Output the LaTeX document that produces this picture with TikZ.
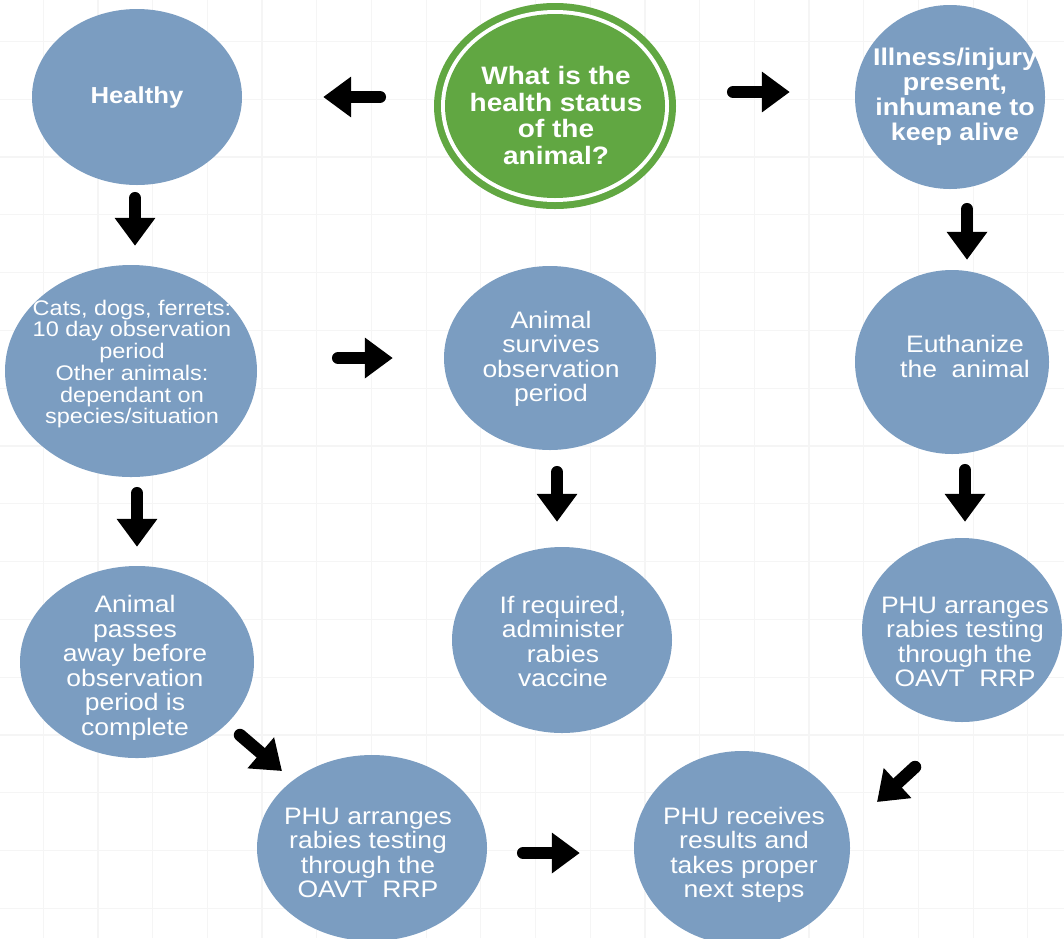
\documentclass[tikz,border=0pt]{standalone}
\usepackage{fontspec}
\setmainfont{Liberation Sans}
\usepackage{graphicx}
\usetikzlibrary{shapes.geometric,arrows.meta,calc}
\definecolor{nodeblue}{RGB}{123,157,193}
\definecolor{qgreen}{RGB}{97,167,66}
\definecolor{gridc}{RGB}{245,245,245}
\newcommand{\sqz}[1]{\scalebox{1}[0.9]{\begin{tabular}{@{}c@{}}#1\end{tabular}}}
\tikzset{
  ell/.style={ellipse, fill=nodeblue, inner sep=0pt},
  lbl/.style={text=white, inner sep=0pt, font=\fontsize{26.5}{27}\selectfont},
  lblsmall/.style={text=white, inner sep=0pt, font=\fontsize{23.5}{23.5}\selectfont},
  lblbold/.style={text=white, inner sep=0pt, font=\fontsize{26.8}{28}\selectfont\bfseries},
  lblq/.style={text=white, inner sep=0pt, font=\fontsize{28}{29.6}\selectfont\bfseries},
  blk/.style={line width=12.5pt, line cap=round, -{Triangle[length=28pt,width=39pt]}},
  gridline/.style={gridc, line width=1.2pt},
}
\begin{document}
\begin{tikzpicture}[x=1pt,y=-1pt]
\useasboundingbox (0,0) rectangle (1064,938);
\fill[white] (0,0) rectangle (1064,938);
\foreach \i in {0,...,18} \draw[gridline] ({43.2+54.7*\i},0) -- ++(0,938);
\foreach \j in {0,...,15} \draw[gridline] (0,{41.4+57.8*\j}) -- ++(1064,0);

% central question
\node[ellipse, fill=qgreen, inner sep=0pt, minimum width=242, minimum height=206] (q) at (555,106) {};
\fill[white] (q.center) ellipse [x radius=114, y radius=96];
\fill[qgreen] (q.center) ellipse [x radius=110, y radius=92];
\node[lblq] (q-t) at (556,119) {\sqz{What is the\\health status\\of the\\animal?}};

% ellipses
\node[ell, minimum width=210, minimum height=176] (healthy) at (137,97) {};
\node[ell, minimum width=190, minimum height=184] (ill) at (950,97) {};
\node[ell, minimum width=252, minimum height=212] (cats) at (131,371) {};
\node[ell, minimum width=212, minimum height=184] (surv) at (550,358) {};
\node[ell, minimum width=194, minimum height=184] (euth) at (952,362) {};
\node[ell, minimum width=234, minimum height=192] (pass) at (137,662) {};
\node[ell, minimum width=220, minimum height=186] (ifreq) at (562,640) {};
\node[ell, minimum width=200, minimum height=184] (phur) at (962,630) {};
\node[ell, minimum width=230, minimum height=186] (phub) at (372,848) {};
\node[ell, minimum width=216, minimum height=194] (recv) at (742,848) {};

% labels
\node[lblbold, font=\fontsize{25.7}{27}\selectfont\bfseries] (healthy-t) at (137,99) {\sqz{Healthy}};
\node[lblbold] (ill-t) at (955,98) {\sqz{Illness/injury\\present,\\inhumane to\\keep alive}};
\node[lblsmall] (cats-t) at (132,365) {\sqz{Cats, dogs, ferrets:\\10 day observation\\period\\Other animals:\\dependant on\\species/situation}};
\node[lbl] (surv-t) at (551,360) {\sqz{Animal\\survives\\observation\\period}};
\node[lbl] (euth-t) at (965,360) {\sqz{Euthanize\\the~~animal}};
\node[lbl] (pass-t) at (135,669) {\sqz{Animal\\passes\\away before\\observation\\period is\\complete}};
\node[lbl] (ifreq-t) at (563,645) {\sqz{If required,\\administer\\rabies\\vaccine}};
\node[lbl] (phur-t) at (965,645) {\sqz{PHU arranges\\rabies testing\\through the\\OAVT~~RRP}};
\node[lbl] (phub-t) at (368,856) {\sqz{PHU arranges\\rabies testing\\through the\\OAVT~~RRP}};
\node[lbl] (recv-t) at (744,856) {\sqz{PHU receives\\results and\\takes proper\\next steps}};

% arrows
\draw[blk] ($(q.west)+(-54,-9)$) -- ($(healthy.east)+(81,0)$);
\draw[blk] ($(q.east)+(57,-14)$) -- ($(ill.west)+(-65,-5)$);
\draw[blk] ($(healthy.south)+(-2,13)$) -- ($(cats.north)+(4,-19)$);
\draw[blk] ($(ill.south)+(17,20)$) -- ($(euth.north)+(15,-10)$);
\draw[blk] ($(cats.east)+(81,-13)$) -- ($(surv.west)+(-51,0)$);
\draw[blk] ($(cats.south)+(6,16)$) -- ($(pass.north)+(0,-19)$);
\draw[blk] ($(surv.south)+(7,22)$) -- ($(ifreq.north)+(-5,-25)$);
\draw[blk] ($(euth.south)+(13,16)$) -- ($(phur.north)+(3,-16)$);
\draw[blk] ($(pass.center)+(103,73)$) -- ($(phub.center)+(-90,-77)$);
\draw[blk] ($(phur.center)+(-47,137)$) -- ($(recv.center)+(135,-46)$);
\draw[blk] ($(phub.east)+(36,5)$) -- ($(recv.west)+(-54,5)$);
\end{tikzpicture}
\end{document}
